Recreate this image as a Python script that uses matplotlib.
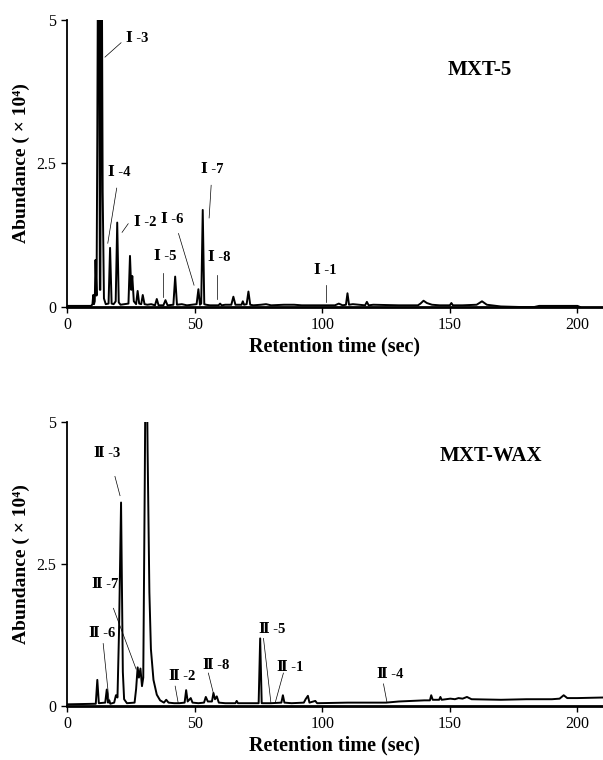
import matplotlib
matplotlib.use("Agg")
import matplotlib.pyplot as plt

plt.rcParams['font.family'] = ['Liberation Serif', 'DejaVu Serif']

# MXT-5 chromatogram (retention time in sec, abundance x10^4)
rt_mxt5 = [0, 9.5, 10.0, 10.3, 10.6, 10.9, 11.2, 11.6, 11.9, 12.4, 12.9, 13.1, 13.5, 14.0, 14.5,
           15.2, 16.3, 16.9, 17.5, 18.3, 19.1, 19.7, 20.3, 21.0, 22.5, 24.1, 24.7, 25.2, 25.6,
           26.2, 27.1, 27.7, 28.3, 29.1, 29.7, 30.4, 31.5, 33.0, 34.5, 35.2, 35.9, 37.8, 38.6,
           39.4, 41.7, 42.4, 43.1, 45.0, 47.0, 50.8, 51.5, 52.1, 52.6, 53.2, 53.8, 54.5, 56.0,
           59.4, 60.0, 60.6, 62.0, 64.4, 65.2, 66.0, 68.4, 68.9, 69.4, 70.4, 71.1, 71.8, 73.0,
           76.0, 78.0, 80.0, 85.0, 89.0, 92.0, 100.0, 105.0, 106.5, 108.0, 109.3, 109.9, 110.5,
           112.0, 116.8, 117.5, 118.2, 120.0, 130.0, 137.5, 138.5, 139.7, 141.0, 143.0, 146.0,
           150.0, 150.6, 151.2, 155.0, 160.5, 162.6, 164.5, 170.0, 178.0, 183.0, 185.0, 195.0,
           200.0, 201.0]
ab_mxt5 = [0.02, 0.02, 0.05, 0.21, 0.05, 0.1, 0.82, 0.2, 3.0, 9.0, 0.3, 0.3, 8.0, 2.0, 0.15,
           0.05, 0.06, 1.03, 0.06, 0.05, 0.1, 1.47, 0.08, 0.04, 0.05, 0.06, 0.89, 0.3, 0.54,
           0.1, 0.05, 0.28, 0.06, 0.05, 0.21, 0.05, 0.04, 0.05, 0.03, 0.14, 0.03, 0.03, 0.12,
           0.03, 0.04, 0.53, 0.04, 0.05, 0.03, 0.05, 0.31, 0.04, 0.06, 1.69, 0.05, 0.04, 0.03,
           0.03, 0.06, 0.03, 0.04, 0.04, 0.18, 0.04, 0.04, 0.1, 0.04, 0.05, 0.27, 0.04, 0.03,
           0.04, 0.05, 0.03, 0.04, 0.04, 0.03, 0.03, 0.03, 0.06, 0.03, 0.04, 0.24, 0.04,
           0.05, 0.03, 0.09, 0.03, 0.04, 0.03, 0.03, 0.06, 0.11, 0.07, 0.04, 0.03,
           0.03, 0.07, 0.03, 0.03, 0.04, 0.1, 0.04, 0.01, 0.0, 0.0, 0.02, 0.02,
           0.02, 0.0]

# MXT-WAX chromatogram
rt_wax = [0, 11.3, 11.9, 12.5, 15.0, 15.6, 16.1, 16.6, 17.0, 18.5, 19.2, 19.8, 20.4, 21.2, 21.9,
          22.4, 23.5, 26.5, 27.1, 27.7, 28.2, 28.8, 29.4, 29.9, 30.5, 31.0, 31.6, 32.3, 32.9,
          33.9, 35.2, 36.5, 38.0, 38.9, 39.8, 42.0, 44.0, 46.1, 46.7, 47.3, 48.5, 49.2, 51.5,
          53.7, 54.4, 55.2, 56.8, 57.4, 58.0, 58.7, 59.5, 62.0, 66.0, 66.5, 67.0, 75.1, 75.7,
          76.3, 80.0, 84.0, 84.6, 85.2, 88.0, 92.8, 93.5, 94.4, 95.0, 97.3, 98.0, 110.0, 120.0,
          125.0, 130.0, 135.0, 140.0, 142.2, 142.7, 143.3, 145.8, 146.3, 146.8, 150.2, 152.0,
          153.4, 155.0, 156.7, 158.5, 170.0, 180.0, 190.0, 193.0, 194.6, 196.0, 200.0, 210.0]
ab_wax = [0.03, 0.04, 0.46, 0.05, 0.06, 0.29, 0.06, 0.1, 0.04, 0.06, 0.19, 0.15, 1.3, 3.58, 0.6,
          0.12, 0.05, 0.06, 0.3, 0.68, 0.5, 0.66, 0.35, 0.5, 4.0, 7.5, 4.5, 2.0, 1.0,
          0.46, 0.2, 0.1, 0.06, 0.11, 0.06, 0.05, 0.05, 0.06, 0.28, 0.08, 0.14, 0.06, 0.05,
          0.06, 0.16, 0.08, 0.08, 0.23, 0.12, 0.17, 0.06, 0.05, 0.05, 0.09, 0.05, 0.05, 1.19,
          0.05, 0.05, 0.06, 0.19, 0.06, 0.05, 0.06, 0.12, 0.18, 0.06, 0.09, 0.05, 0.06, 0.06,
          0.06, 0.08, 0.09, 0.1, 0.1, 0.19, 0.11, 0.11, 0.16, 0.11, 0.13, 0.12,
          0.14, 0.13, 0.16, 0.12, 0.11, 0.12, 0.12, 0.13, 0.19, 0.14, 0.14, 0.15]

# peak labels: (text, text x, text y, line start, line end)
labels_mxt5 = [
    ("Ⅰ -3", 27.5, 4.67, (21.2, 4.6), (14.9, 4.35)),
    ("Ⅰ -4", 20.5, 2.34, (19.5, 2.07), (16.0, 1.11)),
    ("Ⅰ -2", 30.5, 1.47, (24.0, 1.45), (21.6, 1.30)),
    ("Ⅰ -6", 41.2, 1.52, (43.7, 1.28), (49.8, 0.38)),
    ("Ⅰ -5", 38.5, 0.88, (37.5, 0.60), (37.5, 0.18)),
    ("Ⅰ -7", 56.9, 2.40, (56.5, 2.12), (55.7, 1.55)),
    ("Ⅰ -8", 59.8, 0.86, (58.7, 0.56), (58.7, 0.14)),
    ("Ⅰ -1", 101.3, 0.63, (101.3, 0.38), (101.3, 0.09)),
]
labels_wax = [
    ("Ⅱ -3", 15.7, 4.44, (18.8, 4.04), (20.8, 3.70)),
    ("Ⅱ -7", 14.9, 2.13, (18.2, 1.72), (27.1, 0.65)),
    ("Ⅱ -6", 13.6, 1.27, (14.2, 1.10), (16.6, 0.05)),
    ("Ⅱ -2", 45.0, 0.52, (42.4, 0.35), (43.6, 0.05)),
    ("Ⅱ -8", 58.4, 0.72, (55.4, 0.58), (57.4, 0.22)),
    ("Ⅱ -5", 80.3, 1.35, (77.0, 1.19), (79.9, 0.06)),
    ("Ⅱ -1", 87.6, 0.68, (84.8, 0.58), (81.6, 0.06)),
    ("Ⅱ -4", 126.8, 0.55, (124.0, 0.39), (125.4, 0.06)),
]

fig = plt.figure(figsize=(6.03, 7.60), dpi=100)
ax1 = fig.add_axes([0.111, 0.596, 0.889, 0.378])
ax2 = fig.add_axes([0.111, 0.071, 0.889, 0.374])


def draw(ax, rt, ab, labels, name, name_pos):
    ax.plot(rt, ab, color='black', linewidth=1.4, clip_on=True)
    for text, tx, ty, p0, p1 in labels:
        ax.text(tx, ty, text, ha='center', va='center', fontsize=10.5, fontweight='bold')
        ax.plot([p0[0], p1[0]], [p0[1], p1[1]], color='black', linewidth=0.5)
    ax.text(name_pos[0], name_pos[1], name, ha='center', va='center', fontsize=15, fontweight='bold')

    ax.set_xlim(0, 210)
    ax.set_ylim(0, 5)
    ax.set_xticks([0, 50, 100, 150, 200])
    ax.set_yticks([0, 2.5, 5])
    ax.set_yticklabels(['0', '2.5', '5'])
    ax.spines['top'].set_visible(False)
    ax.spines['right'].set_visible(False)
    ax.spines['bottom'].set_linewidth(2.0)
    ax.spines['left'].set_linewidth(1.3)
    ax.tick_params(direction='out', length=4, width=1, labelsize=11.5, colors='black')
    ax.set_xlabel('Retention time (sec)', fontsize=14.5, fontweight='bold', labelpad=2)
    ax.set_ylabel('Abundance ( × 10⁴)', fontsize=14, fontweight='bold', labelpad=5)


draw(ax1, rt_mxt5, ab_mxt5, labels_mxt5, 'MXT-5', (161.6, 4.13))
draw(ax2, rt_wax, ab_wax, labels_wax, 'MXT-WAX', (166.2, 4.40))

fig.savefig("out.png", dpi=100)
